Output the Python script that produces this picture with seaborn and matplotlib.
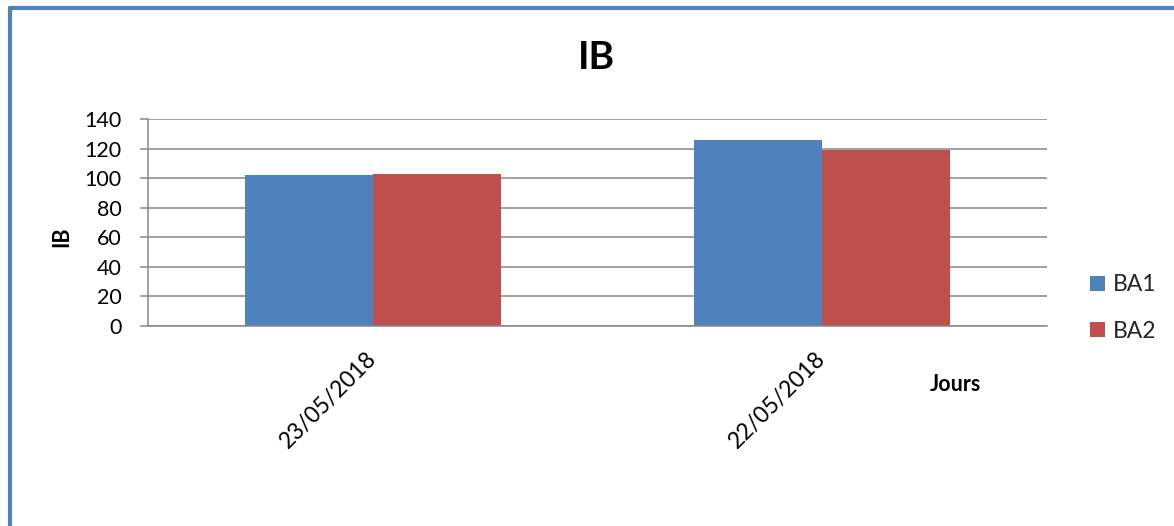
import matplotlib
matplotlib.use("Agg")
import matplotlib.pyplot as plt
from matplotlib.lines import Line2D
import seaborn as sns
import pandas as pd

# Data
categories = ["23/05/2018", "22/05/2018"]
series_names = ["BA1", "BA2"]
ba1_values = [102.1, 125.5]
ba2_values = [102.6, 119.3]
y_ticks = [0, 20, 40, 60, 80, 100, 120, 140]

colors = ["#4F81BD", "#C0504D"]
grid_color = "#868686"

df = pd.DataFrame({
    "Jours": categories * 2,
    "IB": ba1_values + ba2_values,
    "Série": [series_names[0]] * len(categories) + [series_names[1]] * len(categories),
})

sns.set_theme(style="white")
plt.rcParams["font.family"] = ["Lato", "DejaVu Sans"]

fig = plt.figure(figsize=(11.74, 5.26), dpi=100)
ax = fig.add_axes([148 / 1174, 1 - 326 / 526, 899 / 1174, 207 / 526])

sns.barplot(data=df, x="Jours", y="IB", hue="Série", order=categories,
            hue_order=series_names, palette=colors, width=0.57,
            saturation=1, linewidth=0, ax=ax, legend=False, errorbar=None)

ax.set_xlim(-0.5, len(categories) - 0.5)
ax.set_ylim(0, 140)
ax.set_yticks(y_ticks)
ax.set_yticklabels([str(v) for v in y_ticks], fontsize=15.5, color="black")
ax.yaxis.grid(True, color=grid_color, linewidth=1.1)
ax.xaxis.grid(False)
ax.set_axisbelow(True)

for s in ["top", "right"]:
    ax.spines[s].set_visible(False)
for s in ["left", "bottom"]:
    ax.spines[s].set_color(grid_color)
    ax.spines[s].set_linewidth(1.1)

ax.tick_params(axis="y", which="major", left=True, length=6, width=1.1,
               color=grid_color, pad=13)
ax.tick_params(axis="x", which="major", bottom=False, length=0)

ax.set_xticks(range(len(categories)))
ax.set_xticklabels(categories, rotation=45, ha="right", va="center",
                   rotation_mode="anchor", fontsize=16.5, color="black")
ax.tick_params(axis="x", pad=21)

ax.set_ylabel("IB", fontsize=15.5, fontweight="bold", color="black", va="center")
ax.yaxis.set_label_coords(-0.0957, 0.43)
ax.set_xlabel("Jours", fontsize=15.5, fontweight="bold", color="black",
              ha="center", va="center")
ax.xaxis.set_label_coords(0.8977, -0.285)

fig.text(596 / 1174, 1 - 58 / 526, "IB", fontsize=28, fontweight="bold",
         ha="center", va="center", color="black")

handles = [plt.Rectangle((0, 0), 1, 1, facecolor=c, edgecolor="none") for c in colors]
fig.legend(handles, series_names, loc="center left",
           bbox_to_anchor=(1090 / 1174, 1 - 308 / 526), frameon=False,
           fontsize=16.5, handlelength=0.66, handleheight=0.66,
           handletextpad=0.33, labelspacing=1.1, borderpad=0, borderaxespad=0)

# Outer border (top and left only visible)
border_color = "#4F81BD"
fig.add_artist(Line2D([9.5 / 1174, 1.0], [1 - 8 / 526, 1 - 8 / 526],
                      transform=fig.transFigure, color=border_color, linewidth=3))
fig.add_artist(Line2D([9.5 / 1174, 9.5 / 1174], [0, 1 - 8 / 526],
                      transform=fig.transFigure, color=border_color, linewidth=3))

fig.savefig("out.png", dpi=100, facecolor="white")
